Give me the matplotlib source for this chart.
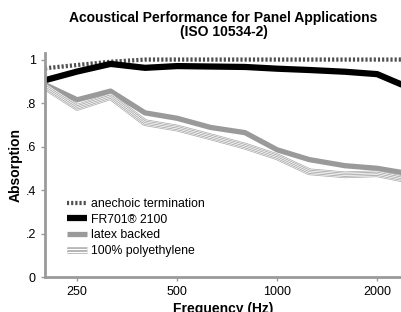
import matplotlib.pyplot as plt
import matplotlib as mpl
import matplotlib.patheffects as pe
from matplotlib.lines import Line2D

mpl.rcParams['font.family'] = ['Liberation Sans', 'DejaVu Sans']

# 1/3 octave frequencies (Hz)
freq = [200, 250, 315, 400, 500, 630, 800, 1000, 1250, 1600, 2000, 2500]

anechoic = [0.96, 0.975, 0.99, 1.0, 1.0, 1.0, 1.0, 1.0, 1.0, 1.0, 1.0, 1.0]
fr701 = [0.905, 0.945, 0.98, 0.962, 0.97, 0.968, 0.966, 0.958, 0.952, 0.944, 0.933, 0.87]
latex = [0.885, 0.815, 0.855, 0.755, 0.73, 0.688, 0.664, 0.585, 0.54, 0.512, 0.5, 0.475]
poly = [0.875, 0.78, 0.83, 0.71, 0.685, 0.645, 0.602, 0.553, 0.484, 0.47, 0.475, 0.445]

xticks = [250, 500, 1000, 2000]
yticks = [0, 0.2, 0.4, 0.6, 0.8, 1.0]
ylabels = ['0', '.2', '.4', '.6', '.8', '1']

fig = plt.figure(figsize=(4.02, 3.12), dpi=100)
ax = fig.add_axes([0.112, 0.112, 0.888, 0.718])

# styles (also used for legend handles)
ane_kw = dict(color='#505050', lw=3, dashes=(0.5, 0.5), dash_capstyle='butt',
              path_effects=[pe.Stroke(linewidth=3, foreground='#d8d8d8'), pe.Normal()])
fr_kw = dict(color='black', lw=4.5, solid_capstyle='butt')
lat_kw = dict(color='#9a9a9a', lw=3.8, solid_capstyle='butt')
poly_kw = dict(color='#a8a8a8', lw=0.6, solid_capstyle='butt',
               path_effects=[pe.Stroke(linewidth=4.8, foreground='#a8a8a8', capstyle='butt'),
                             pe.Stroke(linewidth=3.8, foreground='white', capstyle='butt'),
                             pe.Stroke(linewidth=2.9, foreground='#a8a8a8', capstyle='butt'),
                             pe.Stroke(linewidth=1.7, foreground='white', capstyle='butt'),
                             pe.Normal()])

ax.plot(freq, anechoic, **ane_kw)
ax.plot(freq, fr701, **fr_kw)
ax.plot(freq, latex, **lat_kw)
ax.plot(freq, poly, **poly_kw)

ax.set_xscale('log')
ax.set_xlim(200, 2376)
ax.set_ylim(0, 1.03)
ax.set_xticks(xticks)
ax.set_xticklabels([str(t) for t in xticks])
ax.xaxis.set_minor_locator(mpl.ticker.NullLocator())
ax.set_yticks(yticks)
ax.set_yticklabels(ylabels)

for s in ['top', 'right']:
    ax.spines[s].set_visible(False)
for s in ['left', 'bottom']:
    ax.spines[s].set_color('#9a9a9a')
    ax.spines[s].set_linewidth(2)
ax.tick_params(colors='#9a9a9a', labelcolor='black', labelsize=9, length=3, width=1)

ax.set_xlabel('Frequency (Hz)', fontsize=10, fontweight='bold', labelpad=2.5)
ax.set_ylabel('Absorption', fontsize=10, fontweight='bold', labelpad=2)
ax.set_title('Acoustical Performance for Panel Applications\n(ISO 10534-2)',
             fontsize=10, fontweight='bold', pad=12, linespacing=1.05)

handles = [Line2D([], [], **ane_kw), Line2D([], [], **fr_kw),
           Line2D([], [], **lat_kw), Line2D([], [], **poly_kw)]
ax.legend(handles,
          ['anechoic termination', 'FR701\u00ae 2100', 'latex backed', '100% polyethylene'],
          loc='lower left', bbox_to_anchor=(0.062, 0.09), frameon=False, fontsize=8.8,
          handlelength=1.6, handletextpad=0.35, labelspacing=0.3, borderpad=0,
          borderaxespad=0)

plt.savefig('out.png', dpi=100)
